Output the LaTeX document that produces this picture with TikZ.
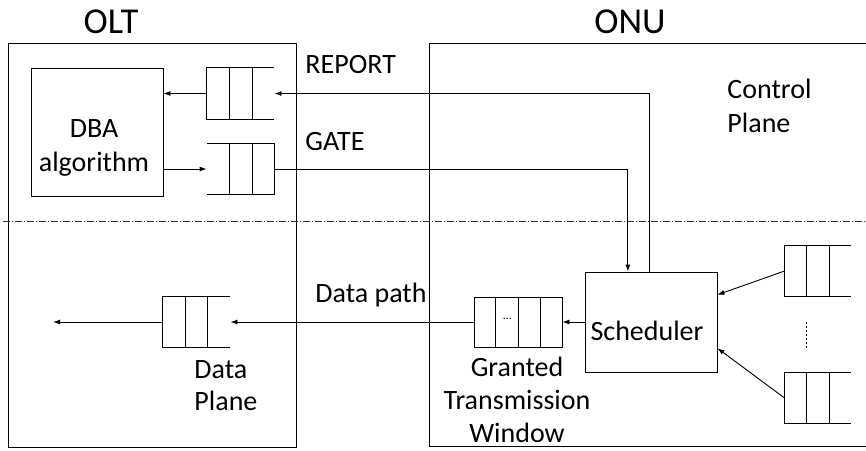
\documentclass[tikz,border=0pt]{standalone}
\usepackage{fontspec}
\setmainfont{Carlito}
\usetikzlibrary{arrows.meta,calc}
\begin{document}
\begin{tikzpicture}[x=1pt,y=-1pt,line width=0.9pt,
  lbl/.style={font=\fontsize{28}{33}\selectfont,inner sep=0pt,anchor=base west},
  lblc/.style={font=\fontsize{28}{33}\selectfont,inner sep=0pt,anchor=base},
  ttl/.style={font=\fontsize{36.5}{40}\selectfont,inner sep=0pt,anchor=base},
  frame/.style={draw,inner sep=0pt},
  qbox/.style={inner sep=0pt,minimum width=67pt,minimum height=50pt},
  arr/.style={-{Latex[length=7pt,width=5pt]}},
  planeline/.style={line width=0.8pt,black!80,dash pattern=on 7pt off 2pt on 1pt off 2pt},
  dotline/.style={line width=0.6pt,dash pattern=on 2pt off 2pt}]
\useasboundingbox (0,0) rectangle (866,450);

% titles
\node[ttl] (olttitle) at (111,33) {OLT};
\node[ttl] (onutitle) at (630,33) {ONU};

% frames
\node[frame,minimum width=288pt,minimum height=404pt] (olt) at (152,245) {};
\coordinate (onutr) at (866,43);
\coordinate (onubl) at (429,446);
\coordinate (onubr) at (866,446);
\draw (onutr) -| (onubl) -- (onubr);

% plane separator
\coordinate (sepl) at (3,221);
\coordinate (sepr) at (866,221);
\draw[planeline] (sepl) -- (sepr);

% DBA box
\node[frame,minimum width=132pt,minimum height=128pt] (dba) at (97,132) {};
\node[lblc] (dbat1) at (94,137) {DBA};
\node[lblc] (dbat2) at (94,171) {algorithm};

% scheduler
\node[frame,minimum width=132pt,minimum height=100pt] (sch) at (651,322) {};
\node[lblc] (scht) at (647,340) {Scheduler};

% REPORT queue (open right)
\node[qbox,minimum height=51pt] (rq) at (240.5,93.5) {};
\draw (rq.north east) -- (rq.north west) -- (rq.south west) -- (rq.south east);
\foreach \f in {0.33,0.67} \draw ($(rq.north west)!\f!(rq.north east)$) -- ($(rq.south west)!\f!(rq.south east)$);

% GATE queue (open left)
\node[qbox] (gq) at (240.5,169) {};
\draw (gq.north west) -- (gq.north east) -- (gq.south east) -- (gq.south west);
\foreach \f in {0.33,0.67} \draw ($(gq.north west)!\f!(gq.north east)$) -- ($(gq.south west)!\f!(gq.south east)$);

% OLT data queue (open right)
\node[qbox] (dq) at (196.5,322) {};
\draw (dq.north east) -- (dq.north west) -- (dq.south west) -- (dq.south east);
\foreach \f in {0.33,0.66} \draw ($(dq.north west)!\f!(dq.north east)$) -- ($(dq.south west)!\f!(dq.south east)$);

% granted window
\node[frame,minimum width=88pt,minimum height=50pt] (win) at (518,322) {};
\foreach \f in {0.25,0.51,0.75} \draw ($(win.north west)!\f!(win.north east)$) -- ($(win.south west)!\f!(win.south east)$);
\node[font=\fontsize{12}{12}\selectfont,inner sep=0pt,anchor=base] (wdots) at ($(win.north west)!0.38!(win.north east)+(0,22.5)$) {...};

% ONU queues (open right)
\node[qbox,minimum width=66pt] (q1) at (818,271) {};
\draw (q1.north east) -- (q1.north west) -- (q1.south west) -- (q1.south east);
\foreach \f in {0.32,0.67} \draw ($(q1.north west)!\f!(q1.north east)$) -- ($(q1.south west)!\f!(q1.south east)$);
\node[qbox,minimum width=66pt] (q2) at (818,398) {};
\draw (q2.north east) -- (q2.north west) -- (q2.south west) -- (q2.south east);
\foreach \f in {0.32,0.67} \draw ($(q2.north west)!\f!(q2.north east)$) -- ($(q2.south west)!\f!(q2.south east)$);
\coordinate (vdtop) at ($(q1.south west)!0.32!(q1.south east)+(0,26)$);
\coordinate (vdbot) at ($(q1.south west)!0.32!(q1.south east)+(0,52)$);
\draw[dotline] (vdtop) -- (vdbot);

% connectors
\coordinate (schr) at ($(sch.north west)!0.49!(sch.north east)$);
\coordinate (schg) at ($(sch.north west)!0.326!(sch.north east)$);
\draw[arr] (schr) |- (rq.east);
\draw[arr] (rq.west) -- (rq.west -| dba.east);
\draw[arr] (dba.east |- gq.west) -- (gq.west);
\draw[arr] (gq.east) -| (schg);
\draw[arr] (sch.west) -- (win.east);
\draw[arr] (win.west) -- (dq.east);
\coordinate (dout) at (53,322);
\draw[arr] (dq.west) -- (dout);
\draw[arr] (q1.west) -- ($(sch.north east)!0.23!(sch.south east)$);
\draw[arr] (q2.west) -- ($(sch.north east)!0.76!(sch.south east)$);

% labels
\node[lbl] (lreport) at (305,73) {REPORT};
\node[lbl] (lgate) at (305,150) {GATE};
\node[lbl] (lctrl1) at (727,98) {Control};
\node[lbl] (lctrl2) at (727,132) {Plane};
\node[lbl] (ldpath) at (315,302) {Data path};
\node[lbl] (ldata1) at (194,378) {Data};
\node[lbl] (ldata2) at (194,410) {Plane};
\node[lblc] (lgr1) at (517,376) {Granted};
\node[lblc] (lgr2) at (517,409) {Transmission};
\node[lblc] (lgr3) at (517,442) {Window};
\end{tikzpicture}
\end{document}
